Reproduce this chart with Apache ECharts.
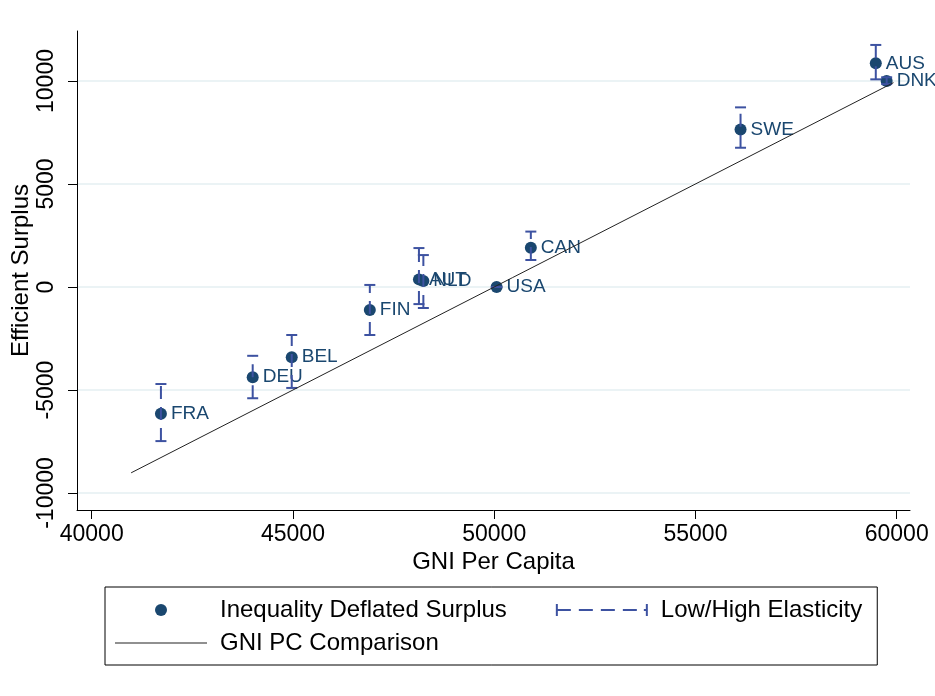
<!DOCTYPE html>
<html>
<head>
<meta charset="utf-8">
<script src="https://cdn.jsdelivr.net/npm/echarts@6/dist/echarts.min.js"></script>
<style>
  html, body { margin: 0; padding: 0; background: #fff; }
  #chart { width: 935px; height: 696px; }
</style>
</head>
<body>
<div id="chart"></div>
<script>
// ---- data ----
const countries = ['FRA', 'DEU', 'BEL', 'FIN', 'AUT', 'NLD', 'USA', 'CAN', 'SWE', 'AUS', 'DNK'];
const gniPerCapita = [41720, 44000, 44970, 46910, 48130, 48240, 50060, 50910, 56120, 59480, 59750];
const surplus = [-6150, -4380, -3410, -1120, 370, 290, 0, 1910, 7650, 10860, 10000];
const lowElasticity = [-7480, -5400, -4900, -2330, -830, -1020, 0, 1310, 6760, 10080, 9850];
const highElasticity = [-4710, -3340, -2330, 100, 1890, 1550, 0, 2690, 8720, 11750, 10180];
const comparisonX = [40980, 59920];
const comparisonY = [-9020, 9920];
const xTicks = [40000, 45000, 50000, 55000, 60000];
const yTicks = [-10000, -5000, 0, 5000, 10000];

const NAVY = '#1a476f';
const BAR = '#3d52a1';
const FONT = "'Liberation Sans', Arial, Helvetica, sans-serif";

const scatterData = countries.map((c, i) => ({ name: c, value: [gniPerCapita[i], surplus[i]] }));
const barData = countries.map((c, i) => [gniPerCapita[i], lowElasticity[i], highElasticity[i]]);
const lineData = comparisonX.map((x, i) => [x, comparisonY[i]]);

const errIcon = 'path://M0,0H2V12H0Z M0,5H15V7H0Z M23,5H37V7H23Z M45,5H59V7H45Z M67,5H81V7H67Z M88,5H92V7H88Z M90,0H92V12H90Z';
const lineIcon = 'path://M0,5.5H92V6.5H0Z';
const plain = v => String(v);

const chart = echarts.init(document.getElementById('chart'), null, { renderer: 'canvas' });
chart.setOption({
  backgroundColor: '#fff',
  animation: false,
  textStyle: { fontFamily: FONT },
  grid: { left: 77, right: 25, top: 31, bottom: 186, containLabel: false, outerBoundsMode: 'none' },
  xAxis: {
    type: 'value',
    min: 39635, max: 60330,
    name: 'GNI Per Capita',
    nameLocation: 'middle',
    nameGap: 40,
    nameMoveOverlap: false,
    nameTextStyle: { fontSize: 24, color: '#000', fontFamily: FONT },
    axisLine: { show: true, onZero: false, lineStyle: { color: '#000', width: 1 } },
    axisTick: { show: true, length: 9, lineStyle: { color: '#000', width: 1 }, customValues: xTicks },
    axisLabel: { fontSize: 23, color: '#000', margin: 13, fontFamily: FONT, customValues: xTicks, formatter: plain },
    splitLine: { show: false }
  },
  yAxis: {
    type: 'value',
    min: -10825, max: 12427,
    name: 'Efficient Surplus',
    nameLocation: 'middle',
    nameRotate: 90,
    nameGap: 44,
    nameMoveOverlap: false,
    nameTextStyle: { fontSize: 24, color: '#000', fontFamily: FONT },
    axisLine: { show: true, onZero: false, lineStyle: { color: '#000', width: 1 } },
    axisTick: { show: true, length: 9, lineStyle: { color: '#000', width: 1 }, customValues: yTicks },
    axisLabel: { fontSize: 23, color: '#000', margin: 19, rotate: 90, fontFamily: FONT, customValues: yTicks, formatter: plain },
    splitLine: { show: true, lineStyle: { color: '#e4eff2', width: 1.5 } }
  },
  legend: [
    {
      left: 105, top: 587,
      orient: 'horizontal',
      padding: [11, 15, 43, 50],
      itemWidth: 92, itemHeight: 12,
      itemGap: 49,
      borderColor: '#000', borderWidth: 1,
      symbolKeepAspect: true,
      selectedMode: false,
      textStyle: { fontSize: 24, color: '#000', fontFamily: FONT, padding: [0, 0, 0, 8] },
      data: [
        { name: 'Inequality Deflated Surplus', icon: 'circle', itemStyle: { color: NAVY, borderWidth: 0 } },
        { name: 'Low/High Elasticity', icon: errIcon, itemStyle: { color: BAR, borderWidth: 0 } }
      ]
    },
    {
      left: 115, top: 631,
      orient: 'horizontal',
      padding: 0,
      itemWidth: 92, itemHeight: 12,
      symbolKeepAspect: true,
      selectedMode: false,
      textStyle: { fontSize: 24, color: '#000', fontFamily: FONT, padding: [0, 0, 0, 8] },
      data: [
        { name: 'GNI PC Comparison', icon: lineIcon, itemStyle: { color: '#222', borderWidth: 0 } }
      ]
    }
  ],
  series: [
    {
      name: 'Inequality Deflated Surplus',
      type: 'scatter',
      z: 2,
      symbol: 'circle',
      symbolSize: 12,
      itemStyle: { color: NAVY, opacity: 1 },
      label: {
        show: true, position: 'right', distance: 4, formatter: '{b}',
        color: NAVY, fontSize: 19, fontFamily: FONT
      },
      emphasis: { disabled: true },
      data: scatterData
    },
    {
      name: 'Low/High Elasticity',
      type: 'custom',
      z: 3,
      itemStyle: { color: BAR },
      renderItem: function (params, api) {
        const x = api.value(0), lo = api.value(1), hi = api.value(2);
        const pLo = api.coord([x, lo]);
        const pHi = api.coord([x, hi]);
        const hw = 5.5;
        return {
          type: 'group',
          children: [
            { type: 'line', shape: { x1: pLo[0], y1: pLo[1], x2: pHi[0], y2: pHi[1] },
              style: { stroke: BAR, lineWidth: 2, lineDash: [13, 8], fill: null } },
            { type: 'line', shape: { x1: pLo[0] - hw, y1: pLo[1], x2: pLo[0] + hw, y2: pLo[1] },
              style: { stroke: BAR, lineWidth: 2, fill: null } },
            { type: 'line', shape: { x1: pHi[0] - hw, y1: pHi[1], x2: pHi[0] + hw, y2: pHi[1] },
              style: { stroke: BAR, lineWidth: 2, fill: null } }
          ]
        };
      },
      encode: { x: 0, y: [1, 2] },
      data: barData
    },
    {
      name: 'GNI PC Comparison',
      type: 'line',
      z: 4,
      symbol: 'none',
      showSymbol: false,
      itemStyle: { color: '#222' },
      lineStyle: { color: '#222', width: 1 },
      emphasis: { disabled: true },
      data: lineData
    }
  ]
});
</script>
</body>
</html>
